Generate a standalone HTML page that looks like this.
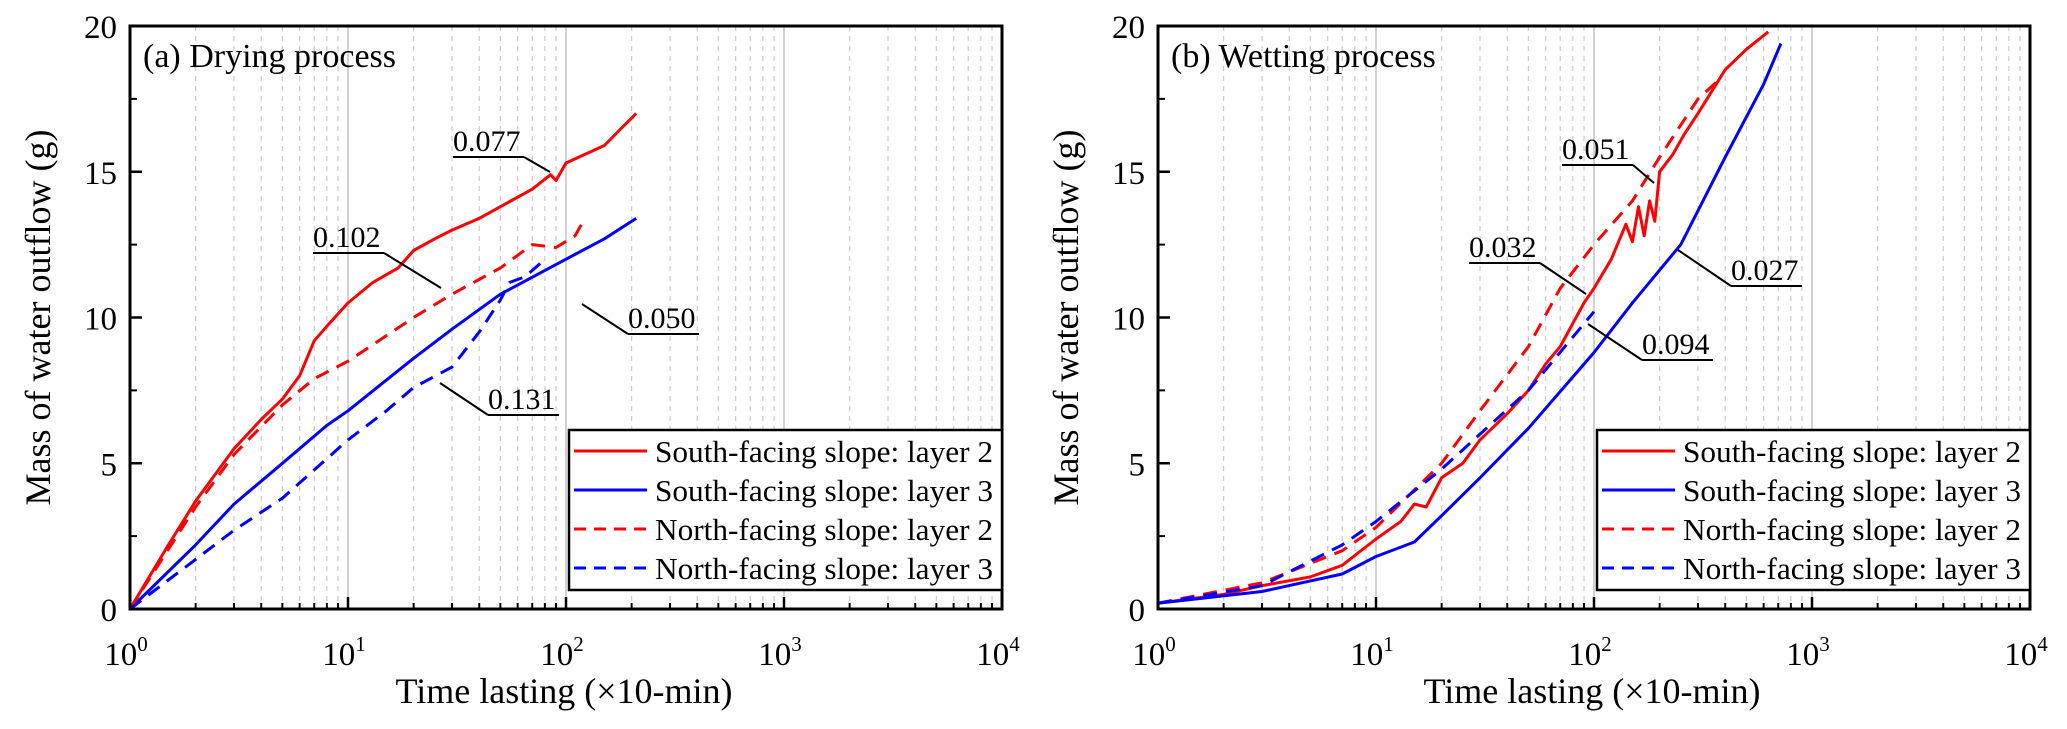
<!DOCTYPE html>
<html><head><meta charset="utf-8"><style>
html,body{margin:0;padding:0;background:#fff;}
svg{display:block;font-family:"Liberation Serif",serif;}
</style></head><body>
<svg id="fig" width="2067" height="729" viewBox="0 0 2067 729" xmlns="http://www.w3.org/2000/svg"></svg>
<script>
// Panel (a) drying data: [time(x10-min), mass(g)]
const aSouthL2 = [[1,0],[1.5,2.2],[2,3.7],[3,5.5],[4,6.5],[5,7.2],[6,8],[7,9.2],[8,9.7],[10,10.5],[13,11.2],[17,11.7],[20,12.3],[25,12.7],[30,13],[40,13.4],[50,13.8],[70,14.4],[85,14.9],[90,14.7],[100,15.3],[150,15.9],[180,16.5],[210,17]];
const aSouthL3 = [[1,0],[2,2.2],[3,3.6],[5,5],[8,6.3],[10,6.8],[20,8.6],[30,9.6],[50,10.8],[100,12],[150,12.7],[210,13.4]];
const aNorthL2 = [[1,0],[2,3.5],[3,5.3],[5,7],[7,7.9],[10,8.5],[20,10],[30,10.8],[50,11.7],[70,12.5],[90,12.4],[110,12.8],[120,13.3]];
const aNorthL3 = [[1,0],[2,1.7],[3,2.7],[5,3.8],[10,5.8],[15,6.8],[20,7.6],[30,8.3],[40,9.5],[50,10.6],[55,11.2],[65,11.4],[80,12]];
// Panel (b) wetting data
const bSouthL2 = [[1,0.2],[2,0.5],[3,0.8],[5,1.1],[7,1.5],[10,2.4],[13,3],[15,3.6],[17,3.5],[20,4.5],[25,5],[30,5.8],[40,6.7],[50,7.5],[60,8.4],[70,9],[80,9.8],[90,10.5],[100,11],[120,12],[140,13.2],[150,12.6],[160,13.8],[170,12.8],[180,14],[190,13.3],[200,15],[230,15.6],[260,16.3],[300,17],[400,18.5],[500,19.2],[630,19.8]];
const bSouthL3 = [[1,0.2],[3,0.6],[7,1.2],[10,1.8],[15,2.3],[20,3.2],[30,4.5],[50,6.2],[100,8.8],[150,10.5],[250,12.5],[400,15.5],[600,18],[720,19.4]];
const bNorthL2 = [[1,0.2],[3,0.9],[7,2],[10,2.8],[20,5],[30,6.8],[50,9],[70,11],[100,12.5],[150,14],[200,15.5],[300,17.5],[380,18.2]];
const bNorthL3 = [[1,0.2],[3,0.8],[7,2.2],[10,3],[20,4.8],[30,6],[50,7.5],[100,10.2]];
const yTicks = [0,5,10,15,20];
const xDecades = [0,1,2,3,4];
const legendLabels = ["South-facing slope: layer 2","South-facing slope: layer 3","North-facing slope: layer 2","North-facing slope: layer 3"];

const NS="http://www.w3.org/2000/svg";
const svg=document.getElementById('fig');
function mk(tag,attrs,parent){const e=document.createElementNS(NS,tag);for(const k in attrs)e.setAttribute(k,attrs[k]);(parent||svg).appendChild(e);return e;}

function panel(x0, key, title, series, annots){
  const top=26, bot=609, dec=218, right=x0+4*dec;
  const X=v=>x0+Math.log10(v)*dec;
  const Y=v=>bot-(v/20)*(bot-top);
  const g=mk('g',{});
  
  
  for(let d=0;d<4;d++){
    for(let m=2;m<=9;m++){
      const gl=mk('line',{x1:X(m*Math.pow(10,d)),x2:X(m*Math.pow(10,d)),y1:top,y2:bot,stroke:'#cfcfcf','stroke-width':1.3,'stroke-dasharray':'5,5'},g);
      
      
      const t=mk('line',{x1:X(m*Math.pow(10,d)),x2:X(m*Math.pow(10,d)),y1:bot,y2:bot-6,stroke:'#000','stroke-width':2},g);
      
      
    }
  }
  xDecades.forEach(d=>{
    const xv=X(Math.pow(10,d));
    if(d>0&&d<4){const gl=mk('line',{x1:xv,x2:xv,y1:top,y2:bot,stroke:'#c8c8c8','stroke-width':1.6},g);
      
      }
    const t=mk('line',{x1:xv,x2:xv,y1:bot,y2:bot-12,stroke:'#000','stroke-width':2.5},g);
    
    
    const tx=mk('text',{x:xv-4,y:665,'font-size':33,'text-anchor':'middle'},g);
    
    
    tx.innerHTML='10<tspan dy="-14" font-size="21">'+d+'</tspan>';
  });
  yTicks.forEach((v,i)=>{
    const t=mk('line',{x1:x0,x2:x0+12,y1:Y(v),y2:Y(v),stroke:'#000','stroke-width':2.5},g);
    
    
    if(i<yTicks.length-1){const m=mk('line',{x1:x0,x2:x0+7,y1:Y(v+2.5),y2:Y(v+2.5),stroke:'#000','stroke-width':2},g);
      
      }
    const tl=mk('text',{x:x0-13,y:Y(v)+12,'font-size':33,'text-anchor':'end'},g);
    
    
    tl.textContent=v;
  });
  const styles=[['#ff0000',''],['#0000ff',''],['#ff0000','14,9'],['#0000ff','14,9']];
  series.forEach((s,i)=>{
    const p=mk('path',{d:s.map((pt,j)=>(j?'L':'M')+X(pt[0]).toFixed(1)+','+Y(pt[1]).toFixed(1)).join(''),fill:'none',stroke:styles[i][0],'stroke-width':3,'stroke-dasharray':styles[i][1],'stroke-linejoin':'round'},g);
    
    
  });
  annots.forEach(a=>{
    const t=mk('text',{x:a.tx,y:a.ty,'font-size':30},g);
    
    
    t.textContent=a.label;
    const w=71;
    const ln=mk('polyline',{points:`${a.tx+w},${a.ty+6} ${a.tx},${a.ty+6}`,fill:'none',stroke:'#000','stroke-width':2},g);
    
    
    const sx=a.fromRight?a.tx+w:a.tx;
    const ld=mk('line',{x1:sx,y1:a.ty+6,x2:a.lx,y2:a.ly,stroke:'#000','stroke-width':2},g);
    
    
  });
  const fr=mk('rect',{x:x0,y:top,width:right-x0,height:bot-top,fill:'none',stroke:'#000','stroke-width':3},g);
  
  
  const tt=mk('text',{x:x0+13,y:67,'font-size':34},g);
  
  
  tt.textContent=title;
  const xt=mk('text',{x:x0+434,y:703,'font-size':36,'text-anchor':'middle'},g);
  
  
  xt.textContent='Time lasting (\u00d710-min)';
  const yt=mk('text',{x:0,y:0,'font-size':36,'text-anchor':'middle',transform:`translate(${x0-80},${(top+bot)/2}) rotate(-90)`},g);
  
  
  yt.textContent='Mass of water outflow (g)';
  const lx=right-433, ly=430;
  const lg=mk('g',{},g);
  
  
  mk('rect',{x:lx,y:ly,width:right-lx,height:160,fill:'#fff',stroke:'#000','stroke-width':2.5},lg);
  legendLabels.forEach((lab,i)=>{
    const yy=ly+21+i*39;
    const l=mk('line',{x1:lx+5,x2:lx+78,y1:yy,y2:yy,stroke:styles[i][0],'stroke-width':3,'stroke-dasharray':styles[i][1]?'12,8':''},lg);
    
    
    const t=mk('text',{x:lx+86,y:yy+11,'font-size':31,textLength:338,lengthAdjust:'spacingAndGlyphs'},lg);
    
    
    t.textContent=lab;
  });
}
panel(130,'a','(a) Drying process',[aSouthL2,aSouthL3,aNorthL2,aNorthL3],[
  {label:'0.077',tx:453,ty:151,lx:550,ly:172,fromRight:true},
  {label:'0.102',tx:313,ty:247,lx:441,ly:288,fromRight:true},
  {label:'0.050',tx:628,ty:328,lx:582,ly:304,fromRight:false},
  {label:'0.131',tx:488,ty:409,lx:440,ly:383,fromRight:false}
]);
panel(1158,'b','(b) Wetting process',[bSouthL2,bSouthL3,bNorthL2,bNorthL3],[
  {label:'0.051',tx:1562,ty:159,lx:1654,ly:183,fromRight:true},
  {label:'0.032',tx:1469,ty:257,lx:1586,ly:294,fromRight:true},
  {label:'0.027',tx:1731,ty:280,lx:1678,ly:250,fromRight:false},
  {label:'0.094',tx:1642,ty:354,lx:1588,ly:324,fromRight:false}
]);
</script>
</body></html>
